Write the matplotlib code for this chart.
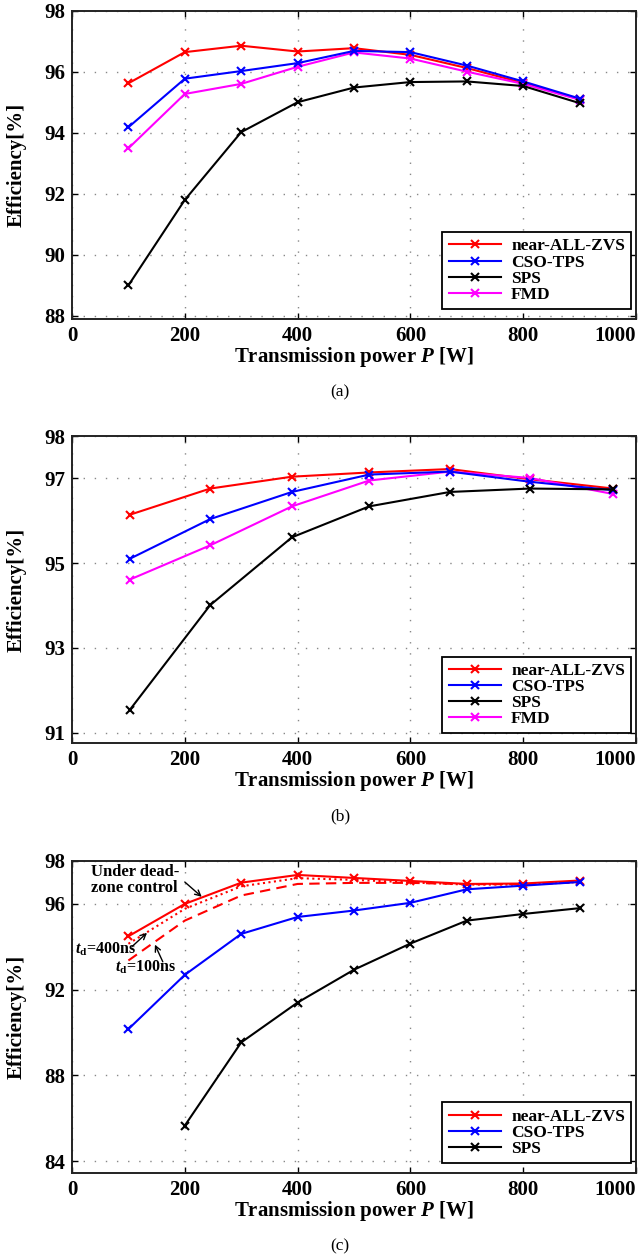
import numpy as np
import matplotlib.pyplot as plt

plt.rcParams['font.family'] = 'Liberation Serif'
plt.rcParams['font.weight'] = 'bold'
plt.rcParams['axes.labelweight'] = 'bold'
plt.rcParams['mathtext.fontset'] = 'custom'
plt.rcParams['mathtext.rm'] = 'Liberation Serif:bold'
plt.rcParams['mathtext.it'] = 'Liberation Serif:italic:bold'
plt.rcParams['mathtext.bf'] = 'Liberation Serif:bold'

# (a) measured efficiency, 9 load points
x_a = [100, 200, 300, 400, 500, 600, 700, 800, 900]
a_zvs = [95.62, 96.64, 96.85, 96.66, 96.77, 96.55, 96.12, 95.63, 95.10]
a_cso = [94.18, 95.77, 96.02, 96.28, 96.68, 96.64, 96.20, 95.68, 95.12]
a_sps = [89.00, 91.80, 94.02, 95.00, 95.48, 95.66, 95.68, 95.53, 94.97]
a_fmd = [93.49, 95.27, 95.60, 96.16, 96.63, 96.43, 96.00, 95.60, 95.08]

# (b)
x_b = [102, 245, 390, 527, 670, 812, 960]
b_zvs = [96.14, 96.76, 97.04, 97.14, 97.22, 96.98, 96.76]
b_cso = [95.10, 96.04, 96.68, 97.09, 97.16, 96.92, 96.72]
b_sps = [91.53, 94.01, 95.61, 96.34, 96.68, 96.76, 96.74]
b_fmd = [94.61, 95.42, 96.34, 96.95, 97.16, 97.01, 96.63]

# (c) incl. dead-zone control curves
x_c = [100, 200, 300, 400, 500, 600, 700, 800, 900]
c_zvs = [94.49, 96.00, 96.99, 97.35, 97.21, 97.07, 96.93, 96.95, 97.09]
c_cso = [90.16, 92.69, 94.60, 95.39, 95.69, 96.05, 96.68, 96.85, 97.02]
x_c_sps = [200, 300, 400, 500, 600, 700, 800, 900]
c_sps = [85.66, 89.54, 91.40, 92.93, 94.15, 95.22, 95.53, 95.80]
c_td400 = [94.14, 95.77, 96.82, 97.20, 97.12, 97.00, 96.90, 96.90, 97.02]
c_td100 = [93.36, 95.22, 96.39, 96.93, 96.98, 96.98, 96.92, 96.92, 97.00]

W, H = 644, 1258
fig = plt.figure(figsize=(W / 100, H / 100), dpi=100)

left, right = 72, 636


def make_axes(top, bottom):
    ax = fig.add_axes([left / W, 1 - bottom / H, (right - left) / W, (bottom - top) / H])
    return ax, bottom - top


def style(ax, hpx, ylim, yticks, caption, bottom):
    ax.set_xlim(0, 1000)
    ax.set_ylim(*ylim)
    ax.set_xticks([0, 200, 400, 600, 800, 1000])
    ax.set_yticks(yticks)
    ax.tick_params(direction='in', length=4, width=1, top=True, right=True,
                   labelsize=15, pad=5)
    ax.get_xticklabels()[-1].set_ha('right')
    for s in ax.spines.values():
        s.set_linewidth(1.4)
        s.set_color('#222222')
    ax.grid(True, color='#888888', linestyle=(0, (1, 7)), linewidth=1)
    ax.set_xlabel('Transmission power $P$ [W]', fontsize=15, fontweight='bold', va='center')
    ax.xaxis.set_label_coords(0.5, -38 / hpx)
    ax.set_ylabel('Efficiency[%]', fontsize=15, fontweight='bold', va='center')
    ax.yaxis.set_label_coords(-55 / (right - left), 0.5)
    leg = ax.legend(loc='lower right', bbox_to_anchor=(1 - 5 / (right - left), 10 / hpx),
                    borderaxespad=0, fontsize=12.5, handlelength=3.0, handletextpad=0.6,
                    labelspacing=0.0, borderpad=0.35, numpoints=1, fancybox=False,
                    framealpha=1, edgecolor='black')
    leg.get_frame().set_linewidth(1.3)
    fig.text(340 / W, 1 - (bottom + 73) / H, caption, ha='center', va='center',
             fontsize=12.5, fontweight='normal')


mk = dict(marker='x', markersize=6, markeredgewidth=1.5, linewidth=1.5)

# (a)
ax, hpx = make_axes(10.6, 319)
ax.plot(x_a, a_zvs, color='red', label='near-ALL-ZVS', zorder=3, **mk)
ax.plot(x_a, a_cso, color='blue', label='CSO-TPS', zorder=3.2, **mk)
ax.plot(x_a, a_sps, color='black', label='SPS', zorder=3.3, **mk)
ax.plot(x_a, a_fmd, color='magenta', label='FMD', zorder=3.1, **mk)
style(ax, hpx, (87.9, 98), [88, 90, 92, 94, 96, 98], '(a)', 319)

# (b)
ax, hpx = make_axes(436, 743.3)
ax.plot(x_b, b_zvs, color='red', label='near-ALL-ZVS', zorder=3, **mk)
ax.plot(x_b, b_cso, color='blue', label='CSO-TPS', zorder=3.2, **mk)
ax.plot(x_b, b_sps, color='black', label='SPS', zorder=3.3, **mk)
ax.plot(x_b, b_fmd, color='magenta', label='FMD', zorder=3.1, **mk)
style(ax, hpx, (90.75, 98), [91, 93, 95, 97, 98], '(b)', 743.3)

# (c)
ax, hpx = make_axes(861, 1173)
ax.plot(x_c, c_td400, color='red', linestyle=':', linewidth=1.5, zorder=2.5)
ax.plot(x_c, c_td100, color='red', linestyle=(0, (5, 3)), linewidth=1.5, zorder=2.5)
ax.plot(x_c, c_zvs, color='red', label='near-ALL-ZVS', zorder=3, **mk)
ax.plot(x_c, c_cso, color='blue', label='CSO-TPS', zorder=3.2, **mk)
ax.plot(x_c_sps, c_sps, color='black', label='SPS', zorder=3.3, **mk)
style(ax, hpx, (83.45, 98), [84, 88, 92, 96, 98], '(c)', 1173)

arr = dict(arrowstyle='->', color='black', lw=1, shrinkA=0, shrinkB=0)
ax.text(34, 97.1, 'Under dead-\nzone control', fontsize=12, ha='left', va='center',
        linespacing=1.0)
ax.annotate('', xy=(230, 96.33), xytext=(200, 97.02), arrowprops=arr)
ax.text(5, 93.86, '$t_{\\rm d}$=400ns', fontsize=11.5, ha='left', va='center')
ax.annotate('', xy=(133, 94.65), xytext=(106, 94.0), arrowprops=arr)
ax.text(76, 93.02, '$t_{\\rm d}$=100ns', fontsize=11.5, ha='left', va='center')
ax.annotate('', xy=(147, 94.1), xytext=(161, 93.3), arrowprops=arr)

fig.savefig('out.png', dpi=100)
